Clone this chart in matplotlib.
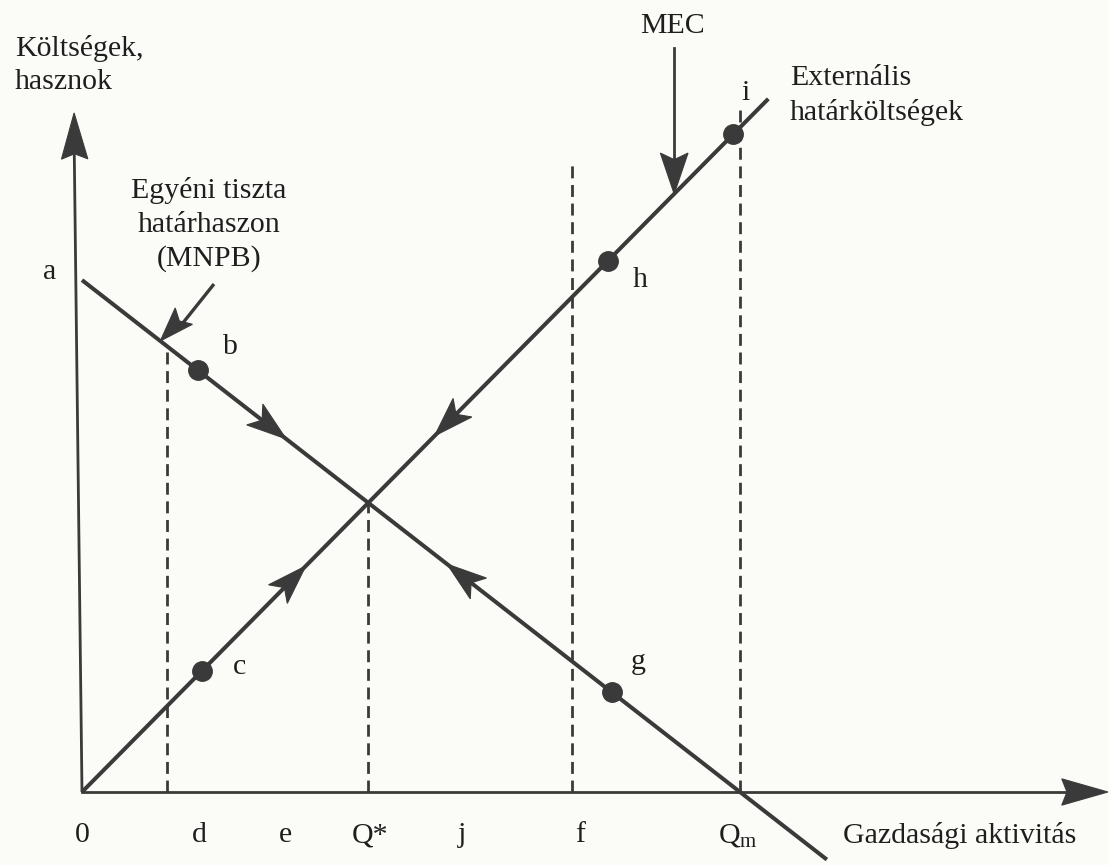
import numpy as np
import matplotlib
matplotlib.use("Agg")
import matplotlib.pyplot as plt
from matplotlib.patches import Polygon

plt.rcParams["mathtext.fontset"] = "custom"
plt.rcParams["mathtext.rm"] = "Liberation Serif"
plt.rcParams["mathtext.it"] = "Liberation Serif:italic"

# ---------------- data ----------------
mnpb_a = 7.78          # intercept "a" of MNPB
q_m = 10.0             # MNPB hits zero at Qm
mec_slope = 1.01       # slope of MEC through origin
mnpb_x_end = 11.32
mec_x_end = 10.43

q_star = mnpb_a / (mec_slope + mnpb_a / q_m)

tick_names = ["0", "d", "e", "Q*", "j", "f", r"Q$_{\mathrm{m}}$"]
tick_pos = [0.0, 1.79, 3.09, 4.38, 5.78, 7.57, 9.97]

dash_x = [1.29, q_star, 7.45, q_m]
dash_top = [None, None, 9.53, 10.40]   # None -> up to the curve

pt_names = ["b", "c", "h", "g", "i"]
pt_x = [1.76, 1.82, 7.99, 8.05, 9.90]
pt_curve = ["mnpb", "mec", "mec", "mnpb", "mec"]

arrow_curve = ["mnpb", "mnpb", "mec", "mec"]
arrow_tip_x = [3.10, 5.55, 3.40, 5.36]
arrow_dir = [1, -1, 1, -1]


def mnpb(x):
    return mnpb_a * (1 - np.asarray(x) / q_m)


def mec(x):
    return mec_slope * np.asarray(x)


curves = {"mnpb": mnpb, "mec": mec}

# ---------------- figure ----------------
PX = 65.8
W, H = 1109, 865
OX, OY = 82, 792
fig = plt.figure(figsize=(W / 100, H / 100), dpi=100)
fig.patch.set_facecolor("#fbfbf8")
ax = fig.add_axes([0, 0, 1, 1])
ax.set_xlim(-OX / PX, (W - OX) / PX)
ax.set_ylim((OY - H) / PX, OY / PX)
ax.axis("off")

LC = "#3a3a3a"
TC = "#1e1e1e"
FONT = "Liberation Serif"
FS = 21.5
LS = 1.38


def head(tip, d, length, hw, notch=0.10, color=LC):
    d = np.asarray(d, float)
    d = d / np.hypot(*d)
    n = np.array([-d[1], d[0]])
    tip = np.asarray(tip, float)
    base = tip - d * length
    pts = [tip, base + n * hw, tip - d * (length - notch), base - n * hw]
    ax.add_patch(Polygon(pts, closed=True, facecolor=color, edgecolor=color,
                         lw=0.8, zorder=5))


# axes
ytip = (-0.12, 10.32)
ax.plot([0, ytip[0]], [0, ytip[1] - 0.4], color=LC, lw=2.0, zorder=3,
        solid_capstyle="butt")
head(ytip, (ytip[0], ytip[1]), 0.70, 0.20, 0.08)
xtip = (15.59, 0)
ax.plot([0, xtip[0] - 0.4], [0, 0], color=LC, lw=2.0, zorder=3)
head(xtip, (1, 0), 0.70, 0.20, 0.08)

# curves
xm = np.array([0, mnpb_x_end])
ax.plot(xm, mnpb(xm), color=LC, lw=2.9, zorder=4, solid_capstyle="butt")
xe = np.array([0, mec_x_end])
ax.plot(xe, mec(xe), color=LC, lw=2.9, zorder=4, solid_capstyle="butt")

# dashed verticals
for x, top in zip(dash_x, dash_top):
    if top is None:
        top = float(max(mnpb(x), mec(x)))
    ax.plot([x, x], [0, top], color=LC, lw=2.0, ls=(0, (4.3, 2.4)), zorder=3)

# direction arrows on curves
for c, xt, dr in zip(arrow_curve, arrow_tip_x, arrow_dir):
    slope = -mnpb_a / q_m if c == "mnpb" else mec_slope
    head((xt, float(curves[c](xt))), (dr, dr * slope), 0.60, 0.20, 0.14)

# points
for x, c in zip(pt_x, pt_curve):
    ax.plot([x], [float(curves[c](x))], "o", ms=14, color=LC, zorder=6)

# point labels
lab_pos = {"a": (-0.49, 7.90), "b": (2.25, 6.76), "c": (2.40, 1.90),
           "h": (8.48, 7.78), "g": (8.45, 1.98), "i": (10.08, 10.62)}
for k, (lx, ly) in lab_pos.items():
    ax.text(lx, ly, k, fontsize=FS, family=FONT, color=TC,
            ha="center", va="center")

# tick labels
for name, x in zip(tick_names, tick_pos):
    ax.text(x, -0.66, name, fontsize=FS, family=FONT, color=TC,
            ha="center", va="center")
ax.text(11.57, -0.66, "Gazdasági aktivitás", fontsize=FS, family=FONT,
        color=TC, ha="left", va="center")

# axis title
ax.text(-1.02, 11.05, "Költségek,\nhasznok", fontsize=FS, family=FONT,
        color=TC, ha="left", va="center", linespacing=LS)

# MNPB label + arrow
ax.text(1.93, 8.62, "Egyéni tiszta\nhatárhaszon\n(MNPB)", fontsize=FS,
        family=FONT, color=TC, ha="center", va="center", linespacing=LS,
        multialignment="center")
mtip_x = 1.19
mtip = (mtip_x, float(mnpb(mtip_x)))
mtail = (1.99, 7.70)
ax.plot([mtail[0], mtip[0] + 0.3], [mtail[1], mtip[1] + 0.22], color=LC,
        lw=2.4, zorder=5)
head(mtip, (mtip[0] - mtail[0], mtip[1] - mtail[1]), 0.52, 0.18, 0.10)

# MEC label + arrow
ax.text(8.98, 11.64, "MEC", fontsize=FS, family=FONT, color=TC,
        ha="center", va="center")
etip_x = 9.00
etip = (etip_x, float(mec(etip_x)))
ax.plot([etip_x, etip_x], [11.30, etip[1] + 0.4], color=LC, lw=2.0, zorder=5)
head(etip, (0, -1), 0.62, 0.21, 0.10)

ax.text(10.76, 10.58, "Externális\nhatárköltségek", fontsize=FS, family=FONT,
        color=TC, ha="left", va="center", linespacing=LS)

fig.savefig("out.png", dpi=100, facecolor=fig.get_facecolor())
